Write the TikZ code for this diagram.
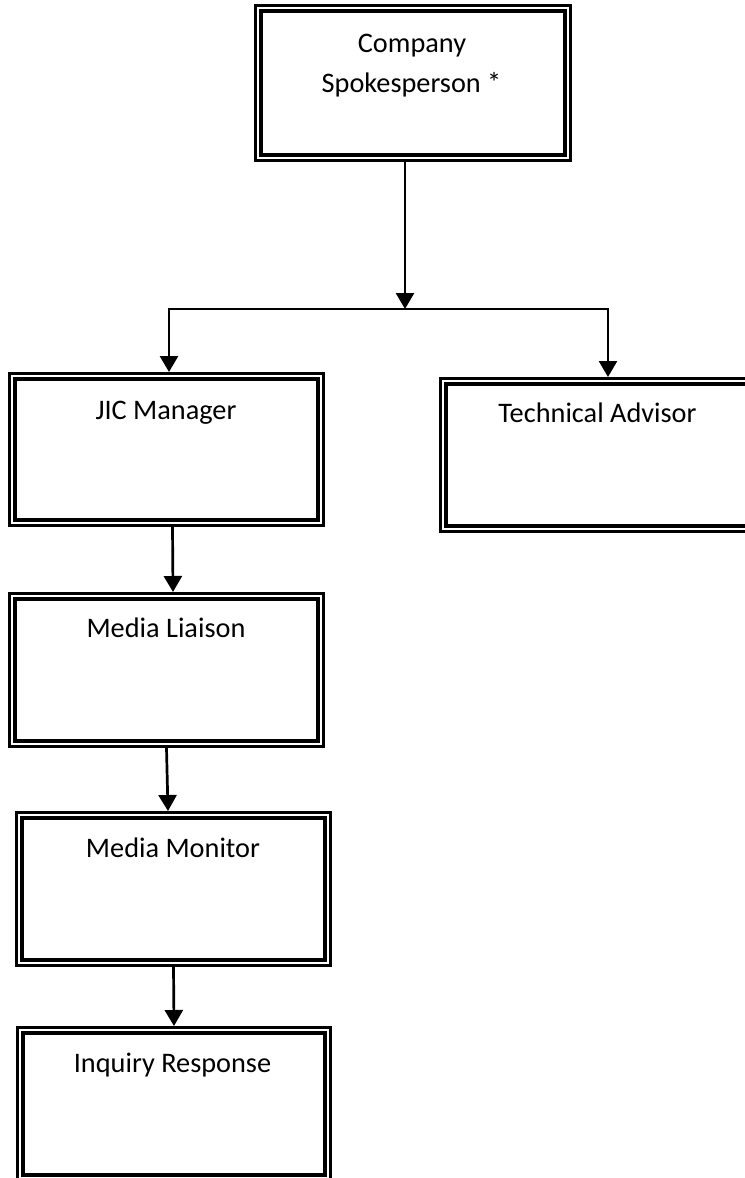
\documentclass[tikz,border=0pt]{standalone}
\usepackage{fontspec}
\setmainfont{Carlito}
\usetikzlibrary{arrows.meta}
\begin{document}
\begin{tikzpicture}[x=1bp,y=-1bp,
  box/.style={draw=black, line width=3.3bp, double=white, double distance=2bp,
    rectangle, inner sep=0pt, outer sep=4.3bp, minimum height=147.4bp},
  lbl/.style={font=\fontsize{28.3bp}{40bp}\selectfont, inner sep=0pt, anchor=base},
  arr/.style={line width=2.7bp, -{Triangle[length=16bp,width=18bp]}},
  conn/.style={line width=2.7bp}]
\useasboundingbox (0,0) rectangle (745,1178);
\clip (0,0) rectangle (745,1178);
\fill[white] (0,0) rectangle (745,1178);

% boxes
\node[box, minimum width=309.4bp, minimum height=149.4bp] (top) at (413,83) {};
\node[box, minimum width=308.4bp, minimum height=146.4bp] (jic) at (166.5,449.5) {};
\node[box, minimum width=308.4bp] (tech) at (597.5,455) {};
\node[box, minimum width=308.4bp] (liaison) at (166.5,670) {};
\node[box, minimum width=308.4bp] (monitor) at (173.5,889) {};
\node[box, minimum width=307.4bp] (inquiry) at (174,1104) {};

% labels
\node[lbl] (t1a) at (412,52) {Company};
\node[lbl] (t1b) at (411.5,92) {Spokesperson *};
\node[lbl] (t2) at (166,419) {JIC Manager};
\node[lbl] (t3) at (597.5,422) {Technical Advisor};
\node[lbl] (t4) at (166,637) {Media Liaison};
\node[lbl] (t5) at (173,857) {Media Monitor};
\node[lbl] (t6) at (172.5,1072) {Inquiry Response};

% connectors
\coordinate (j) at (405,309);
\coordinate (jl) at (169,309);
\coordinate (jr) at (608,309);
\draw[arr] (top.south -| j) -- (j);
\draw[conn] ([xshift=-1.35bp]jl) -- ([xshift=1.35bp]jr);
\draw[arr] (jl) -- (jl |- jic.north);
\draw[arr] (jr) -- (jr |- tech.north);
\draw[arr] ([xshift=6bp]jic.south) -- ([xshift=6.5bp]liaison.north);
\draw[arr] (liaison.south) -- ([xshift=-5.5bp]monitor.north);
\draw[arr] (monitor.south) -- (inquiry.north);
\end{tikzpicture}
\end{document}
